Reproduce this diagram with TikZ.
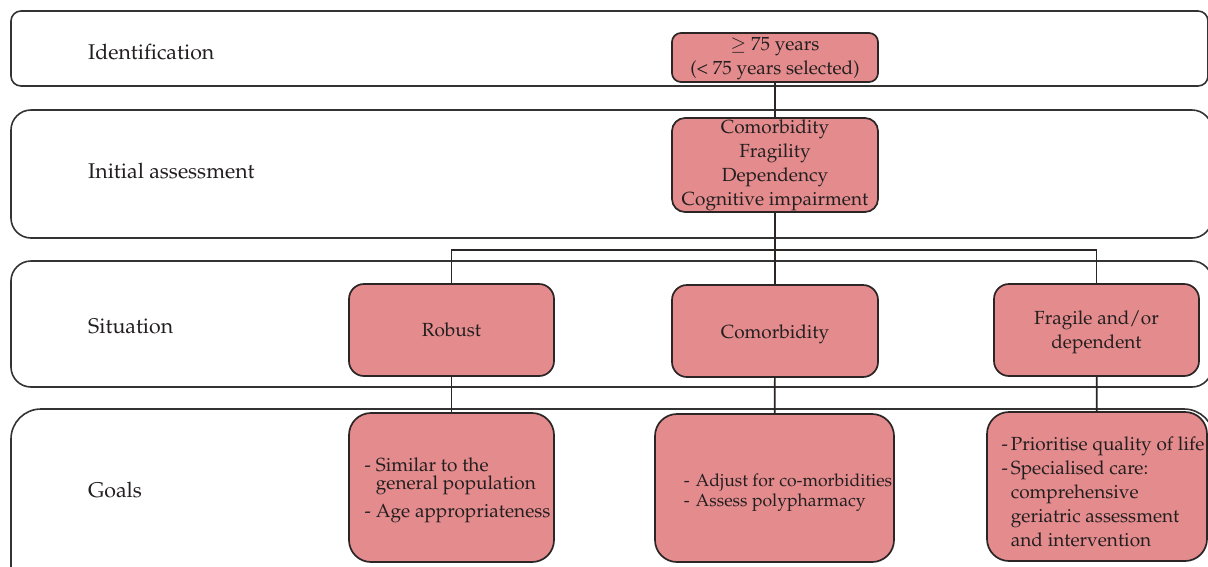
\documentclass[tikz,border=0pt]{standalone}
\usepackage[T1]{fontenc}
\usepackage{mathpazo}
\definecolor{boxfill}{HTML}{E48B8D}
\definecolor{boxline}{HTML}{2B2526}
\definecolor{bandline}{HTML}{333333}
\definecolor{ink}{HTML}{231F20}
\newcommand{\mainfs}{\fontsize{19}{24}\selectfont}
\newcommand{\labfs}{\fontsize{21.3}{26}\selectfont}
\newcommand{\smallfs}{\fontsize{17.6}{20}\selectfont}
% lower a line of text without changing its reported height and depth
\newcommand{\lowered}[2]{\raisebox{-#1}[\height][\depth]{#2}}
\begin{document}
\begin{tikzpicture}[x=1pt,y=-1pt,
  band/.style={draw=bandline, line width=1.6pt, fill=white},
  box/.style={draw=boxline, line width=1.7pt, fill=boxfill, inner sep=0pt,
    align=center, font=\mainfs, text=ink},
  lab/.style={anchor=west, inner sep=0pt, font=\labfs, text=ink},
  txt/.style={inner sep=0pt, align=left, font=\mainfs, text=ink},
  link/.style={draw=boxline, line width=1.7pt}
]
\useasboundingbox (0,0) rectangle (1208,566);
\clip (0,0) rectangle (1208,566);

% horizontal bands
\draw[band, rounded corners=10pt] (11,11) rectangle (1208,86);
\draw[band, rounded corners=20pt] (11,110) rectangle (1212,238);
\draw[band, rounded corners=20pt] (11,261) rectangle (1212,387);
\draw[band, rounded corners=30pt] (11,409) rectangle (1214,600);

% band titles
\node[lab] (l1) at (88,52) {Identification};
\node[lab] (l2) at (88,171) {Initial assessment};
\node[lab] (l3) at (88,326) {Situation};
\node[lab] (l4) at (88,490) {Goals};

% identification and assessment
\node[box, rounded corners=9pt, minimum width=206pt, minimum height=49pt]
  (id) at (775,57.5) {\lowered{1pt}{$\geq$ 75 years}\\\lowered{1pt}{(< 75 years selected)}};
\node[box, rounded corners=13pt, minimum width=206pt, minimum height=94pt]
  (init) at (775,165) {Comorbidity\\Fragility\\Dependency\\Cognitive impairment};

% situations
\node[box, rounded corners=15pt, minimum width=205pt, minimum height=92pt]
  (s1) at (451.5,330) {Robust};
\node[box, rounded corners=15pt, minimum width=206pt, minimum height=92pt]
  (s2) at (775,331) {\lowered{3pt}{Comorbidity}};
\node[box, rounded corners=15pt, minimum width=205pt, minimum height=92pt]
  (s3) at (1096.5,330) {\lowered{2pt}{Fragile and/or}\\\lowered{2pt}{dependent}};

% goals
\node[box, rounded corners=22pt, minimum width=205pt, minimum height=149pt]
  (g1) at (451.5,487.5) {};
\node[box, rounded corners=22pt, minimum width=239pt, minimum height=148pt]
  (g2) at (774.5,488) {};
\node[box, rounded corners=22pt, minimum width=220pt, minimum height=149pt]
  (g3) at (1097,486.5) {};

\node[txt] (g1t) at (457.5,490) {%
  \renewcommand{\arraystretch}{0.7}%
  \begin{tabular}{@{}l@{\hspace{5pt}}l@{}}
  - & Similar to the\\ & general population\\[9pt]
  - & Age appropriateness
  \end{tabular}};
\node[txt, font=\smallfs] (g2t) at (788,492) {%
  \renewcommand{\arraystretch}{1}%
  \begin{tabular}{@{}l@{\hspace{6pt}}l@{}}
  - & Adjust for co-morbidities\\
  - & Assess polypharmacy
  \end{tabular}};
\node[txt] (g3t) at (1103,494) {%
  \renewcommand{\arraystretch}{1}%
  \begin{tabular}{@{}l@{\hspace{3pt}}l@{}}
  - & Prioritise quality of life\\
  - & Specialised care:\\
    & comprehensive\\
    & geriatric assessment\\
    & and intervention
  \end{tabular}};

% connectors
\coordinate (bus) at (775,250);
\draw[link] (id) -- (init);
\draw[link] (init) -- (s2);
\draw[link] (s1.north) |- (bus) -| (s3.north);
\draw[link] (s1) -- (g1);
\draw[link] (s2) -- (g2);
\draw[link] (s3) -- (g3);
\end{tikzpicture}
\end{document}
